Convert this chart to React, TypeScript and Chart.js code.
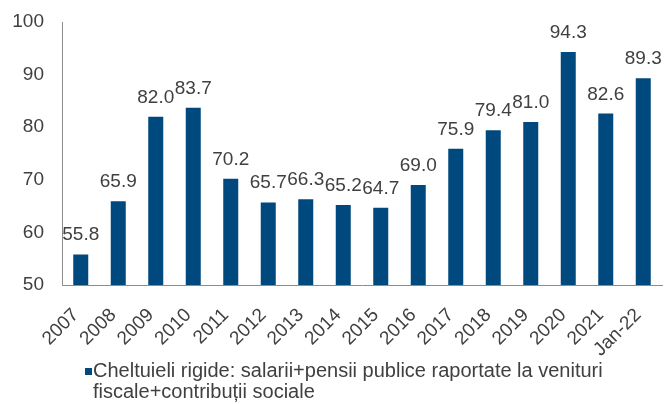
import React, { useEffect, useRef } from "react";
import { Chart, registerables } from "chart.js";

Chart.register(...registerables);

const categories = ["2007", "2008", "2009", "2010", "2011", "2012", "2013", "2014", "2015", "2016", "2017", "2018", "2019", "2020", "2021", "Jan-22"];
const values = [55.8, 65.9, 82.0, 83.7, 70.2, 65.7, 66.3, 65.2, 64.7, 69.0, 75.9, 79.4, 81.0, 94.3, 82.6, 89.3];
const yTicks = [50, 60, 70, 80, 90, 100];
const legendLine1 = "Cheltuieli rigide: salarii+pensii publice raportate la venituri";
const legendLine2 = "fiscale+contribuții sociale";

const FONT = "'Liberation Sans', Arial, sans-serif";
const TEXT = "#404040";
const BAR = "#00497e";

const dataLabels = {
  id: "dataLabels",
  afterDatasetsDraw(chart: any) {
    const ctx = chart.ctx;
    const meta = chart.getDatasetMeta(0);
    ctx.save();
    ctx.font = `19px ${FONT}`;
    ctx.fillStyle = TEXT;
    ctx.textAlign = "center";
    ctx.textBaseline = "alphabetic";
    meta.data.forEach((bar: any, i: number) => {
      ctx.fillText(values[i].toFixed(1), bar.x, bar.y - 14);
    });
    ctx.restore();
  },
};

export default function App() {
  const ref = useRef<HTMLCanvasElement | null>(null);
  useEffect(() => {
    document.body.style.margin = "0";
    const chart = new Chart(ref.current!, {
      type: "bar",
      data: {
        labels: categories,
        datasets: [
          {
            label: legendLine1 + " " + legendLine2,
            data: values,
            backgroundColor: BAR,
            barPercentage: 0.4,
            categoryPercentage: 1,
          },
        ],
      },
      options: {
        animation: false,
        responsive: false,
        maintainAspectRatio: false,
        layout: { padding: { left: 0, right: 7, top: 22, bottom: 0 } },
        plugins: { legend: { display: false }, tooltip: { enabled: false } },
        scales: {
          x: {
            grid: { display: false, drawTicks: false },
            border: { display: true, color: "#8c8c8c", width: 1 },
            ticks: {
              font: { family: FONT, size: 19 },
              color: TEXT,
              maxRotation: 45,
              minRotation: 45,
              padding: 19,
              labelOffset: -5,
              autoSkip: false,
            },
            afterFit: (s: any) => {
              s.height = 119;
              s.paddingLeft = 0;
              s.paddingRight = 0;
            },
          },
          y: {
            min: 50,
            max: 100,
            grid: { display: false, drawTicks: false },
            border: { display: true, color: "#8c8c8c", width: 1 },
            afterBuildTicks: (s: any) => {
              s.ticks = yTicks.map((v) => ({ value: v }));
            },
            ticks: {
              font: { family: FONT, size: 19 },
              color: TEXT,
              padding: 18,
            },
            afterFit: (s: any) => {
              s.width = 62;
              s.paddingTop = 0;
              s.paddingBottom = 0;
            },
          },
        },
      },
      plugins: [dataLabels],
    });
    return () => chart.destroy();
  }, []);

  return (
    <div style={{ position: "relative", width: 669, height: 404, background: "#fff" }}>
      <canvas ref={ref} width={669} height={404} style={{ display: "block" }} />
      <div
        style={{
          position: "absolute",
          left: 85,
          top: 360,
          display: "flex",
          alignItems: "flex-start",
          fontFamily: FONT,
          fontSize: 20,
          lineHeight: "20.5px",
          color: TEXT,
          whiteSpace: "nowrap",
        }}
      >
        <span style={{ display: "inline-block", width: 7, height: 7, marginTop: 8, background: BAR }} />
        <div style={{ marginLeft: 1 }}>
          {legendLine1}
          <br />
          {legendLine2}
        </div>
      </div>
    </div>
  );
}
